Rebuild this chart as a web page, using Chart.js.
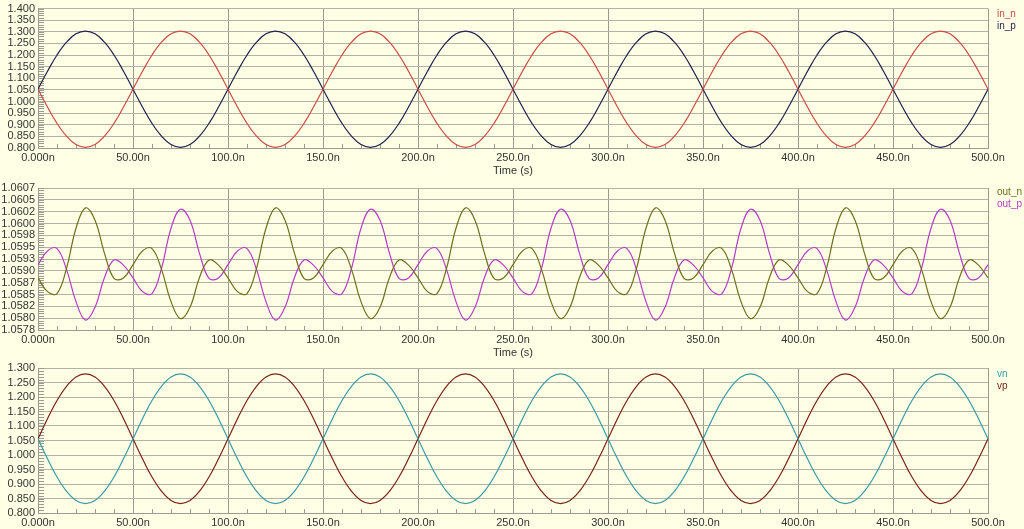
<!DOCTYPE html>
<html>
<head>
<meta charset="utf-8">
<script src="https://cdn.jsdelivr.net/npm/chart.js@4"></script>
<style>
  html, body { margin: 0; padding: 0; background: #ffffe6; }
  body { width: 1024px; height: 529px; position: relative; overflow: hidden; }
  .panel { position: absolute; left: 0; width: 1024px; }
</style>
</head>
<body>
<div class="panel" style="top:0;height:176px"><canvas id="c1"></canvas></div>
<div class="panel" style="top:176px;height:182px"><canvas id="c2"></canvas></div>
<div class="panel" style="top:358px;height:171px"><canvas id="c3"></canvas></div>
<script>
// time axis (ns), one sample every 5 ns
const time = [
  0, 5, 10, 15, 20, 25, 30, 35, 40, 45, 50, 55, 60, 65, 70, 75, 80, 85, 90, 95,
  100, 105, 110, 115, 120, 125, 130, 135, 140, 145, 150, 155, 160, 165, 170, 175, 180, 185, 190, 195,
  200, 205, 210, 215, 220, 225, 230, 235, 240, 245, 250, 255, 260, 265, 270, 275, 280, 285, 290, 295,
  300, 305, 310, 315, 320, 325, 330, 335, 340, 345, 350, 355, 360, 365, 370, 375, 380, 385, 390, 395,
  400, 405, 410, 415, 420, 425, 430, 435, 440, 445, 450, 455, 460, 465, 470, 475, 480, 485, 490, 495,
  500,
];

const xTicks = [0, 50, 100, 150, 200, 250, 300, 350, 400, 450, 500];
const xTickLabels = ["0.000n", "50.00n", "100.0n", "150.0n", "200.0n", "250.0n", "300.0n", "350.0n", "400.0n", "450.0n", "500.0n"];

// panel 1
const inN = [
  1.053, 0.976, 0.906, 0.851, 0.815, 0.803, 0.815, 0.851, 0.906, 0.976, 1.053, 1.130, 1.200, 1.255, 1.291, 1.303, 1.291, 1.255, 1.200, 1.130,
  1.053, 0.976, 0.906, 0.851, 0.815, 0.803, 0.815, 0.851, 0.906, 0.976, 1.053, 1.130, 1.200, 1.255, 1.291, 1.303, 1.291, 1.255, 1.200, 1.130,
  1.053, 0.976, 0.906, 0.851, 0.815, 0.803, 0.815, 0.851, 0.906, 0.976, 1.053, 1.130, 1.200, 1.255, 1.291, 1.303, 1.291, 1.255, 1.200, 1.130,
  1.053, 0.976, 0.906, 0.851, 0.815, 0.803, 0.815, 0.851, 0.906, 0.976, 1.053, 1.130, 1.200, 1.255, 1.291, 1.303, 1.291, 1.255, 1.200, 1.130,
  1.053, 0.976, 0.906, 0.851, 0.815, 0.803, 0.815, 0.851, 0.906, 0.976, 1.053, 1.130, 1.200, 1.255, 1.291, 1.303, 1.291, 1.255, 1.200, 1.130,
  1.053,
];
const inP = [
  1.053, 1.130, 1.200, 1.255, 1.291, 1.303, 1.291, 1.255, 1.200, 1.130, 1.053, 0.976, 0.906, 0.851, 0.815, 0.803, 0.815, 0.851, 0.906, 0.976,
  1.053, 1.130, 1.200, 1.255, 1.291, 1.303, 1.291, 1.255, 1.200, 1.130, 1.053, 0.976, 0.906, 0.851, 0.815, 0.803, 0.815, 0.851, 0.906, 0.976,
  1.053, 1.130, 1.200, 1.255, 1.291, 1.303, 1.291, 1.255, 1.200, 1.130, 1.053, 0.976, 0.906, 0.851, 0.815, 0.803, 0.815, 0.851, 0.906, 0.976,
  1.053, 1.130, 1.200, 1.255, 1.291, 1.303, 1.291, 1.255, 1.200, 1.130, 1.053, 0.976, 0.906, 0.851, 0.815, 0.803, 0.815, 0.851, 0.906, 0.976,
  1.053, 1.130, 1.200, 1.255, 1.291, 1.303, 1.291, 1.255, 1.200, 1.130, 1.053, 0.976, 0.906, 0.851, 0.815, 0.803, 0.815, 0.851, 0.906, 0.976,
  1.053,
];
const yTicks1 = [0.8, 0.85, 0.9, 0.95, 1.0, 1.05, 1.1, 1.15, 1.2, 1.25, 1.3, 1.35, 1.4];
const yLabels1 = ["0.800", "0.850", "0.900", "0.950", "1.000", "1.050", "1.100", "1.150", "1.200", "1.250", "1.300", "1.350", "1.400"];

// panel 2
const outN = [
  1.05885, 1.05856, 1.05852, 1.05905, 1.05990, 1.06033, 1.06007, 1.05937, 1.05884, 1.05885, 1.05913, 1.05942, 1.05947, 1.05903, 1.05835, 1.05799, 1.05823, 1.05886, 1.05923, 1.05912,
  1.05885, 1.05856, 1.05852, 1.05905, 1.05990, 1.06033, 1.06007, 1.05937, 1.05884, 1.05885, 1.05913, 1.05942, 1.05947, 1.05903, 1.05835, 1.05799, 1.05823, 1.05886, 1.05923, 1.05912,
  1.05885, 1.05856, 1.05852, 1.05905, 1.05990, 1.06033, 1.06007, 1.05937, 1.05884, 1.05885, 1.05913, 1.05942, 1.05947, 1.05903, 1.05835, 1.05799, 1.05823, 1.05886, 1.05923, 1.05912,
  1.05885, 1.05856, 1.05852, 1.05905, 1.05990, 1.06033, 1.06007, 1.05937, 1.05884, 1.05885, 1.05913, 1.05942, 1.05947, 1.05903, 1.05835, 1.05799, 1.05823, 1.05886, 1.05923, 1.05912,
  1.05885, 1.05856, 1.05852, 1.05905, 1.05990, 1.06033, 1.06007, 1.05937, 1.05884, 1.05885, 1.05913, 1.05942, 1.05947, 1.05903, 1.05835, 1.05799, 1.05823, 1.05886, 1.05923, 1.05912,
  1.05885,
];
const outP = [
  1.05913, 1.05942, 1.05947, 1.05903, 1.05835, 1.05796, 1.05823, 1.05886, 1.05923, 1.05912, 1.05885, 1.05856, 1.05852, 1.05905, 1.05990, 1.06030, 1.06007, 1.05937, 1.05884, 1.05885,
  1.05913, 1.05942, 1.05947, 1.05903, 1.05835, 1.05796, 1.05823, 1.05886, 1.05923, 1.05912, 1.05885, 1.05856, 1.05852, 1.05905, 1.05990, 1.06030, 1.06007, 1.05937, 1.05884, 1.05885,
  1.05913, 1.05942, 1.05947, 1.05903, 1.05835, 1.05796, 1.05823, 1.05886, 1.05923, 1.05912, 1.05885, 1.05856, 1.05852, 1.05905, 1.05990, 1.06030, 1.06007, 1.05937, 1.05884, 1.05885,
  1.05913, 1.05942, 1.05947, 1.05903, 1.05835, 1.05796, 1.05823, 1.05886, 1.05923, 1.05912, 1.05885, 1.05856, 1.05852, 1.05905, 1.05990, 1.06030, 1.06007, 1.05937, 1.05884, 1.05885,
  1.05913, 1.05942, 1.05947, 1.05903, 1.05835, 1.05796, 1.05823, 1.05886, 1.05923, 1.05912, 1.05885, 1.05856, 1.05852, 1.05905, 1.05990, 1.06030, 1.06007, 1.05937, 1.05884, 1.05885,
  1.05913,
];
const yTicks2 = [1.05775, 1.058, 1.05825, 1.0585, 1.05875, 1.059, 1.05925, 1.0595, 1.05975, 1.06, 1.06025, 1.0605, 1.06075];
const yLabels2 = ["1.0578", "1.0580", "1.0582", "1.0585", "1.0587", "1.0590", "1.0593", "1.0595", "1.0598", "1.0600", "1.0602", "1.0605", "1.0607"];

// panel 3
const vn = [
  1.056, 0.987, 0.924, 0.875, 0.843, 0.832, 0.843, 0.875, 0.924, 0.987, 1.056, 1.125, 1.188, 1.237, 1.269, 1.280, 1.269, 1.237, 1.188, 1.125,
  1.056, 0.987, 0.924, 0.875, 0.843, 0.832, 0.843, 0.875, 0.924, 0.987, 1.056, 1.125, 1.188, 1.237, 1.269, 1.280, 1.269, 1.237, 1.188, 1.125,
  1.056, 0.987, 0.924, 0.875, 0.843, 0.832, 0.843, 0.875, 0.924, 0.987, 1.056, 1.125, 1.188, 1.237, 1.269, 1.280, 1.269, 1.237, 1.188, 1.125,
  1.056, 0.987, 0.924, 0.875, 0.843, 0.832, 0.843, 0.875, 0.924, 0.987, 1.056, 1.125, 1.188, 1.237, 1.269, 1.280, 1.269, 1.237, 1.188, 1.125,
  1.056, 0.987, 0.924, 0.875, 0.843, 0.832, 0.843, 0.875, 0.924, 0.987, 1.056, 1.125, 1.188, 1.237, 1.269, 1.280, 1.269, 1.237, 1.188, 1.125,
  1.056,
];
const vp = [
  1.056, 1.125, 1.188, 1.237, 1.269, 1.280, 1.269, 1.237, 1.188, 1.125, 1.056, 0.987, 0.924, 0.875, 0.843, 0.832, 0.843, 0.875, 0.924, 0.987,
  1.056, 1.125, 1.188, 1.237, 1.269, 1.280, 1.269, 1.237, 1.188, 1.125, 1.056, 0.987, 0.924, 0.875, 0.843, 0.832, 0.843, 0.875, 0.924, 0.987,
  1.056, 1.125, 1.188, 1.237, 1.269, 1.280, 1.269, 1.237, 1.188, 1.125, 1.056, 0.987, 0.924, 0.875, 0.843, 0.832, 0.843, 0.875, 0.924, 0.987,
  1.056, 1.125, 1.188, 1.237, 1.269, 1.280, 1.269, 1.237, 1.188, 1.125, 1.056, 0.987, 0.924, 0.875, 0.843, 0.832, 0.843, 0.875, 0.924, 0.987,
  1.056, 1.125, 1.188, 1.237, 1.269, 1.280, 1.269, 1.237, 1.188, 1.125, 1.056, 0.987, 0.924, 0.875, 0.843, 0.832, 0.843, 0.875, 0.924, 0.987,
  1.056,
];
const yTicks3 = [0.8, 0.85, 0.9, 0.95, 1.0, 1.05, 1.1, 1.15, 1.2, 1.25, 1.3];
const yLabels3 = ["0.800", "0.850", "0.900", "0.950", "1.000", "1.050", "1.100", "1.150", "1.200", "1.250", "1.300"];

const FONT = { family: "'Liberation Sans', Arial, sans-serif", size: 11, lineHeight: 1 };
const TEXT = "#333333";
const AXIS = "#9a9a90";
const GRID = "#b2b2a6";

// small comb ticks along the left and bottom edges of each plot
const minorTicks = {
  id: "minorTicks",
  beforeDatasetsDraw(chart, args, opts) {
    const { ctx, chartArea: a, scales: { x, y } } = chart;
    ctx.save();
    ctx.strokeStyle = AXIS;
    ctx.lineWidth = 1;
    ctx.beginPath();
    for (let k = 0; ; k++) {
      const v = y.min + k * opts.y;
      if (v > y.max + opts.y / 10) break;
      const py = Math.round(y.getPixelForValue(v)) + 0.5;
      ctx.moveTo(a.left, py);
      ctx.lineTo(a.left + 6, py);
    }
    for (let k = 0; ; k++) {
      const v = x.min + k * opts.x;
      if (v > x.max) break;
      const px = Math.round(x.getPixelForValue(v)) + 0.5;
      ctx.moveTo(px, a.bottom);
      ctx.lineTo(px, a.bottom - 4);
    }
    ctx.stroke();
    ctx.restore();
  },
};

// series names on the right, in the colour of their trace
const seriesLabels = {
  id: "seriesLabels",
  afterDraw(chart, args, opts) {
    const { ctx, chartArea } = chart;
    ctx.save();
    ctx.font = "10px 'Liberation Sans', Arial, sans-serif";
    ctx.textBaseline = "middle";
    chart.data.datasets.forEach((ds, i) => {
      ctx.fillStyle = ds.borderColor;
      ctx.fillText(ds.label, chartArea.right + 9, chartArea.top + opts.top + i * 12);
    });
    ctx.restore();
  },
};

function makePanel(id, series, yTicks, yLabels, minorY, padTop, xHeight, showTitle, labelTop) {
  return new Chart(document.getElementById(id), {
    type: "line",
    data: {
      datasets: series.map(([label, values, color]) => ({
        label,
        data: values.map((v, i) => ({ x: time[i], y: v })),
        borderColor: color,
        borderWidth: 1.2,
        pointRadius: 0,
        tension: 0.4,
        fill: false,
      })),
    },
    options: {
      responsive: true,
      maintainAspectRatio: false,
      animation: false,
      layout: { padding: { top: padTop, right: 36, left: 0, bottom: 0 } },
      plugins: {
        legend: { display: false },
        tooltip: { enabled: false },
        minorTicks: { x: 10, y: minorY },
        seriesLabels: { top: labelTop },
      },
      scales: {
        x: {
          type: "linear",
          min: 0,
          max: 500,
          afterBuildTicks: (s) => { s.ticks = xTicks.map((v) => ({ value: v })); },
          afterFit: (s) => { s.height = xHeight; },
          ticks: { padding: 4, color: TEXT, font: FONT, maxRotation: 0, autoSkip: false, callback: (v, i) => xTickLabels[i] },
          grid: { color: AXIS, drawTicks: false },
          border: { color: AXIS },
          title: { display: showTitle, text: "Time (s)", color: TEXT, font: FONT, padding: 0 },
        },
        y: {
          min: yTicks[0],
          max: yTicks[yTicks.length - 1],
          afterBuildTicks: (s) => { s.ticks = yTicks.map((v) => ({ value: v })); },
          afterFit: (s) => { s.width = 38; },
          ticks: { padding: 3, color: TEXT, font: FONT, autoSkip: false, callback: (v, i) => yLabels[i] },
          grid: { color: GRID, drawTicks: false },
          border: { color: AXIS },
        },
      },
    },
    plugins: [minorTicks, seriesLabels],
  });
}

makePanel("c1", [["in_n", inN, "#cc4b44"], ["in_p", inP, "#1f2150"]], yTicks1, yLabels1, 0.01, 6, 28, true, 6);
makePanel("c2", [["out_n", outN, "#6f6f1c"], ["out_p", outP, "#b43cc8"]], yTicks2, yLabels2, 0.00005, 12, 28, true, 4);
makePanel("c3", [["vn", vn, "#3a9aa8"], ["vp", vp, "#7a2418"]], yTicks3, yLabels3, 0.01, 10, 16, false, 6);
</script>
</body>
</html>
